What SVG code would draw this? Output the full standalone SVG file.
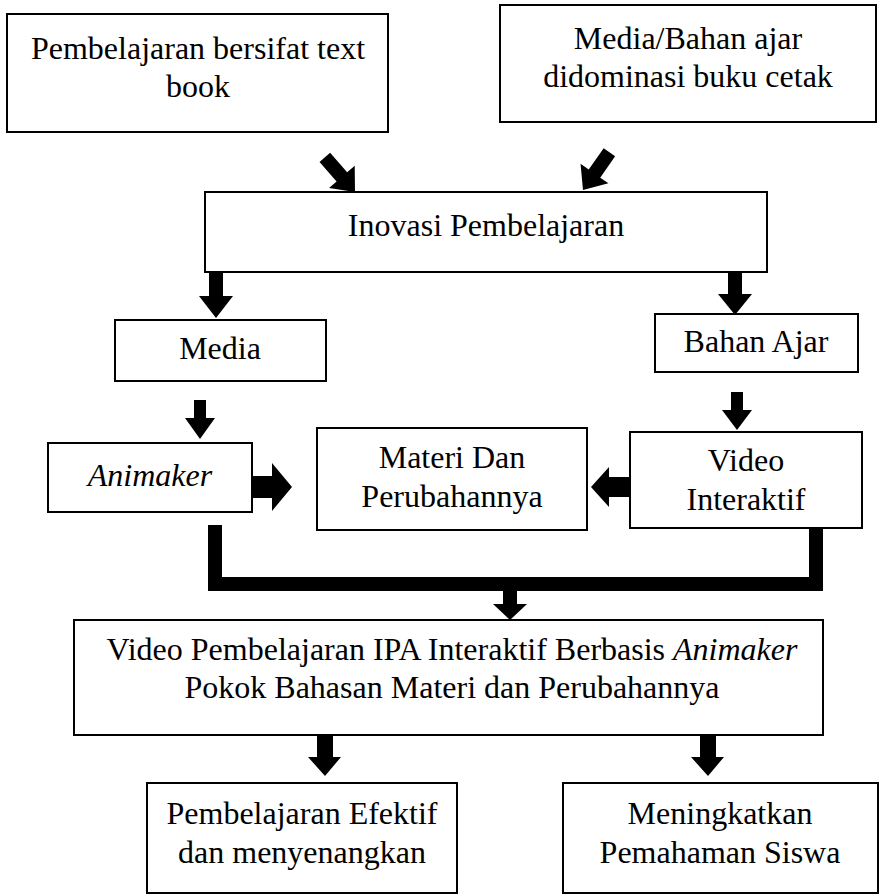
<svg xmlns="http://www.w3.org/2000/svg" width="885" height="895" viewBox="0 0 885 895">
<style>
.box{fill:#fff;stroke:#000;stroke-width:2}
.t{font-family:"Liberation Serif","Times New Roman",serif;font-size:32px;fill:#000;text-anchor:middle}
.i{font-style:italic}
.arr{fill:#000;stroke:none}
</style>
<defs>
  <polygon id="diag" points="0,0 17,-20 7,-20 7,-46 -7,-46 -7,-20 -17,-20"/>
</defs>
<rect width="885" height="895" fill="#fff"/>
<g id="connectors">
  <!-- diagonal arrows into Inovasi -->
  <use href="#diag" class="arr" transform="translate(355,192) rotate(-41)"/>
  <use href="#diag" class="arr" transform="translate(583,190) rotate(35)"/>
  <!-- Inovasi -> Media -->
  <polygon class="arr" points="209,273 223,273 223,296 233,296 216,318 199,296 209,296"/>
  <!-- Inovasi -> Bahan Ajar -->
  <polygon class="arr" points="728,273 742,273 742,294 752,294 735,315 718,294 728,294"/>
  <!-- Media -> Animaker -->
  <polygon class="arr" points="194,400 206,400 206,418 215,418 200,439 185,418 194,418"/>
  <!-- Bahan Ajar -> Video -->
  <polygon class="arr" points="731,392 743,392 743,410 752,410 737,430 722,410 731,410"/>
  <!-- Animaker -> Materi -->
  <polygon class="arr" points="249,476 272,476 272,463 292,487 272,511 272,498 249,498"/>
  <!-- Video -> Materi -->
  <polygon class="arr" points="630,477 609,477 609,467 591,487 609,507 609,497 630,497"/>
  <!-- bracket -->
  <polyline points="215,525 215,584 816,584 816,527" fill="none" stroke="#000" stroke-width="14" stroke-linejoin="miter"/>
  <!-- bracket -> big box -->
  <polygon class="arr" points="503,590 517,590 517,604 527,604 510,620 493,604 503,604"/>
  <!-- big box -> bottom boxes -->
  <polygon class="arr" points="317,736 333,736 333,757 341,757 325,776 308,757 317,757"/>
  <polygon class="arr" points="700,736 716,736 716,757 724,757 708,776 691,757 700,757"/>
</g>
<g id="n_textbook">
  <rect class="box" x="7" y="14" width="381" height="118"/>
  <text class="t" x="198" y="59">Pembelajaran bersifat text</text>
  <text class="t" x="198" y="97">book</text>
</g>
<g id="n_bukucetak">
  <rect class="box" x="500" y="5" width="376" height="117"/>
  <text class="t" x="688" y="49">Media/Bahan ajar</text>
  <text class="t" x="688" y="87">didominasi buku cetak</text>
</g>
<g id="n_inovasi">
  <rect class="box" x="205" y="192" width="562" height="80"/>
  <text class="t" x="486" y="236">Inovasi Pembelajaran</text>
</g>
<g id="n_media">
  <rect class="box" x="115" y="320" width="211" height="61"/>
  <text class="t" x="220" y="359">Media</text>
</g>
<g id="n_bahan">
  <rect class="box" x="655" y="314" width="203" height="58"/>
  <text class="t" x="756" y="352">Bahan Ajar</text>
</g>
<g id="n_animaker">
  <rect class="box" x="48" y="443" width="204" height="69"/>
  <text class="t i" x="150" y="486">Animaker</text>
</g>
<g id="n_materi">
  <rect class="box" x="317" y="428" width="270" height="102"/>
  <text class="t" x="452" y="468">Materi Dan</text>
  <text class="t" x="452" y="507">Perubahannya</text>
</g>
<g id="n_video">
  <rect class="box" x="630" y="432" width="232" height="96"/>
  <text class="t" x="746" y="471">Video</text>
  <text class="t" x="746" y="510">Interaktif</text>
</g>
<g id="n_hasil">
  <rect class="box" x="74" y="620" width="749" height="115"/>
  <text class="t" x="452" y="660">Video Pembelajaran IPA Interaktif Berbasis <tspan class="i">Animaker</tspan></text>
  <text class="t" x="452" y="698">Pokok Bahasan Materi dan Perubahannya</text>
</g>
<g id="n_efektif">
  <rect class="box" x="147" y="783" width="310" height="110"/>
  <text class="t" x="302" y="824">Pembelajaran Efektif</text>
  <text class="t" x="302" y="863">dan menyenangkan</text>
</g>
<g id="n_pemahaman">
  <rect class="box" x="563" y="783" width="315" height="110"/>
  <text class="t" x="720" y="824">Meningkatkan</text>
  <text class="t" x="720" y="863">Pemahaman Siswa</text>
</g>
</svg>
